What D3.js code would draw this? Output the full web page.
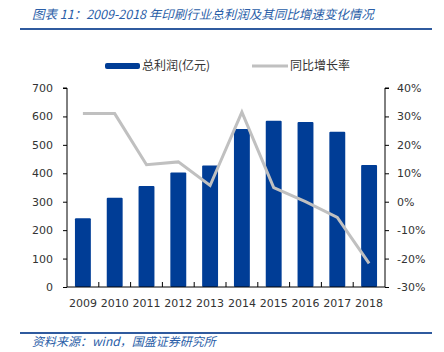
<!DOCTYPE html>
<html>
<head>
<meta charset="utf-8">
<script src="https://cdn.jsdelivr.net/npm/d3@7"></script>
<style>
  body { margin: 0; background: #fff; }
  text { font-family: 'DejaVu Sans', sans-serif; }
</style>
</head>
<body>
<div id="chart"></div>
<script>
const years = ['2009', '2010', '2011', '2012', '2013', '2014', '2015', '2016', '2017', '2018']
const profit = [242, 314, 355, 403, 427, 556, 585, 580, 546, 429]
const growth = [31, 31, 13, 14, 5.7, 31.5, 5, 0, -5.5, -21.7]
const leftTicks = [0, 100, 200, 300, 400, 500, 600, 700]
const rightTicks = [-30, -20, -10, 0, 10, 20, 30, 40]

const W = 444
const H = 352
const margin = { top: 88, right: 59, bottom: 65, left: 67 }
const width = W - margin.left - margin.right
const height = H - margin.top - margin.bottom

const root = d3.select('#chart').append('svg')
  .attr('width', W)
  .attr('height', H)

// title + rules
root.append('text')
  .attr('x', 32).attr('y', 19)
  .attr('font-size', 12.5)
  .attr('font-style', 'italic')
  .attr('fill', '#2a5ea8')
  .style('font-family', "'Noto Sans CJK SC', sans-serif")
  .text('图表 11：2009-2018 年印刷行业总利润及其同比增速变化情况')

root.append('line')
  .attr('x1', 20).attr('x2', 432).attr('y1', 29).attr('y2', 29)
  .attr('stroke', '#2f5a9e').attr('stroke-width', 2)

root.append('line')
  .attr('x1', 20).attr('x2', 432).attr('y1', 333).attr('y2', 333)
  .attr('stroke', '#2f5a9e').attr('stroke-width', 2)

root.append('text')
  .attr('x', 32).attr('y', 346)
  .attr('font-size', 12)
  .attr('font-style', 'italic')
  .attr('fill', '#2a5ea8')
  .style('font-family', "'Noto Sans CJK SC', sans-serif")
  .text('资料来源：wind，国盛证券研究所')

const svg = root.append('g')
  .attr('transform', 'translate(' + margin.left + ',' + margin.top + ')')

const x = d3.scaleBand().domain(years).range([0, width]).paddingInner(0.5).paddingOuter(0.25)
const yL = d3.scaleLinear().domain([0, 700]).range([height, 0])
const yR = d3.scaleLinear().domain([-30, 40]).range([height, 0])

// bars
svg.selectAll('.bar')
  .data(profit)
  .enter()
  .append('rect')
  .attr('class', 'bar')
  .attr('x', (d, i) => x(years[i]))
  .attr('width', x.bandwidth())
  .attr('y', d => yL(d))
  .attr('height', d => height - yL(d))
  .attr('rx', 1)
  .attr('fill', '#003d96')

// line
const line = d3.line()
  .x((d, i) => x(years[i]) + x.bandwidth() / 2)
  .y(d => yR(d))

svg.append('path')
  .datum(growth)
  .attr('d', line)
  .attr('fill', 'none')
  .attr('stroke', '#c0c0c0')
  .attr('stroke-width', 3)

// axes
const leftAxis = d3.axisLeft(yL).tickValues(leftTicks).tickSize(4).tickPadding(10)
const gl = svg.append('g').call(leftAxis)
gl.select('.domain').attr('d', 'M-4,0H0V' + height)

const rightAxis = d3.axisRight(yR).tickValues(rightTicks).tickSize(4).tickPadding(8)
  .tickFormat(d => d + '%')
const gr = svg.append('g').attr('transform', 'translate(' + width + ',0)').call(rightAxis)
gr.select('.domain').attr('d', 'M4,0H0V' + height)

const bottomAxis = d3.axisBottom(x).tickSize(0).tickPadding(12)
const gb = svg.append('g').attr('transform', 'translate(0,' + height + ')').call(bottomAxis)
gb.select('.domain').attr('d', 'M0,0H' + width)

// inner ticks at category boundaries
svg.selectAll('.xtick')
  .data(years.slice(1))
  .enter()
  .append('line')
  .attr('x1', d => x(d) - x.step() * x.paddingInner() / 2)
  .attr('x2', d => x(d) - x.step() * x.paddingInner() / 2)
  .attr('y1', height)
  .attr('y2', height - 5)
  .attr('stroke', '#000')

svg.selectAll('.domain, .tick line').attr('stroke', '#000')
svg.selectAll('.tick text')
  .attr('font-size', 11)
  .attr('fill', '#333')
  .style('font-family', "'DejaVu Sans', sans-serif")

// legend
const legend = root.append('g')
legend.append('rect')
  .attr('x', 105).attr('y', 63).attr('width', 35).attr('height', 6).attr('rx', 2)
  .attr('fill', '#003d96')
legend.append('text')
  .attr('x', 142).attr('y', 70)
  .attr('font-size', 12)
  .attr('fill', '#333')
  .style('font-family', "'Noto Sans CJK SC', sans-serif")
  .text('总利润(亿元)')
legend.append('line')
  .attr('x1', 252).attr('x2', 288).attr('y1', 66).attr('y2', 66)
  .attr('stroke', '#c0c0c0').attr('stroke-width', 3)
legend.append('text')
  .attr('x', 290).attr('y', 70)
  .attr('font-size', 12)
  .attr('fill', '#333')
  .style('font-family', "'Noto Sans CJK SC', sans-serif")
  .text('同比增长率')
</script>
</body>
</html>
